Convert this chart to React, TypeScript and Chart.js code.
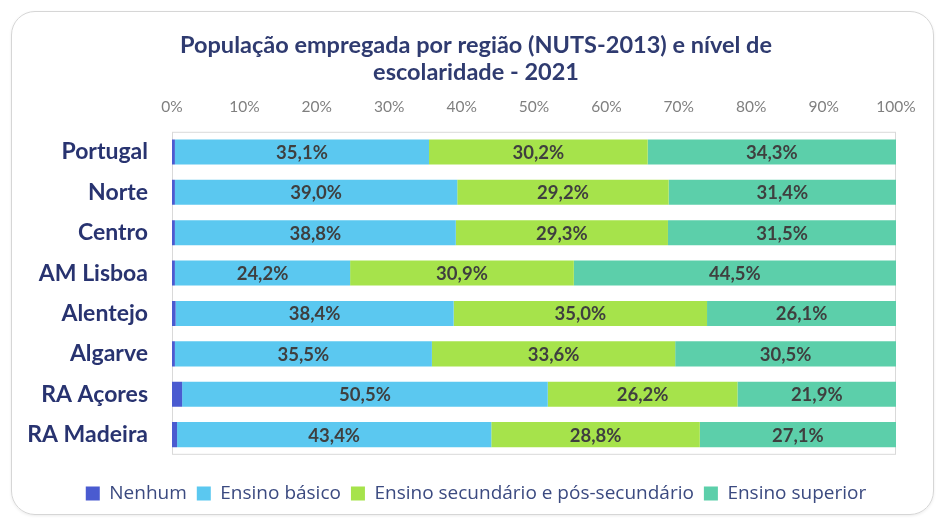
import React, { useEffect, useRef } from 'react';
import { Chart, registerables } from 'chart.js';

Chart.register(...registerables);

const titleLines = ['População empregada por região (NUTS-2013) e nível de', 'escolaridade - 2021'];
const regions = ['Portugal', 'Norte', 'Centro', 'AM Lisboa', 'Alentejo', 'Algarve', 'RA Açores', 'RA Madeira'];
const seriesNames = ['Nenhum', 'Ensino básico', 'Ensino secundário e pós-secundário', 'Ensino superior'];
const nenhum = [0.4, 0.4, 0.4, 0.4, 0.5, 0.4, 1.4, 0.7];
const basico = [35.1, 39.0, 38.8, 24.2, 38.4, 35.5, 50.5, 43.4];
const secundario = [30.2, 29.2, 29.3, 30.9, 35.0, 33.6, 26.2, 28.8];
const superior = [34.3, 31.4, 31.5, 44.5, 26.1, 30.5, 21.9, 27.1];
const xTickValues = [0, 10, 20, 30, 40, 50, 60, 70, 80, 90, 100];
const labeledSeries = [1, 2, 3];

const colors = ['#4a5bd0', '#5bc8f0', '#a6e34b', '#5ccfaa'];

const fmt = (v: number) => v.toFixed(1).replace('.', ',') + '%';

const decorPlugin = {
  id: 'decor',
  beforeDatasetsDraw(chart: any) {
    const { ctx, chartArea } = chart;
    ctx.save();
    ctx.strokeStyle = '#d9d9d9';
    ctx.lineWidth = 1;
    ctx.strokeRect(chartArea.left + 0.5, chartArea.top + 0.5, chartArea.right - chartArea.left - 1, chartArea.bottom - chartArea.top - 1);
    ctx.restore();
  },
  afterDatasetsDraw(chart: any) {
    const { ctx } = chart;
    ctx.save();
    ctx.font = 'bold 18.5px Lato';
    ctx.fillStyle = '#3f3f3f';
    ctx.textAlign = 'center';
    ctx.textBaseline = 'middle';
    labeledSeries.forEach((di) => {
      const meta = chart.getDatasetMeta(di);
      const data = chart.data.datasets[di].data as number[];
      meta.data.forEach((bar: any, i: number) => {
        const cx = (bar.x + bar.base) / 2;
        ctx.fillText(fmt(data[i]), cx, bar.y + 1);
      });
    });
    ctx.restore();
  },
};

export default function App() {
  const ref = useRef<HTMLCanvasElement>(null);
  useEffect(() => {
    if (!ref.current) return;
    const series = [nenhum, basico, secundario, superior];
    const chart = new Chart(ref.current, {
      type: 'bar',
      data: {
        labels: regions,
        datasets: series.map((d, i) => ({
          label: seriesNames[i],
          data: d,
          backgroundColor: colors[i],
          borderWidth: 0,
          barPercentage: 0.62,
          categoryPercentage: 1,
        })),
      },
      options: {
        indexAxis: 'y',
        responsive: false,
        animation: false,
        layout: { padding: { top: 0, left: 15, right: 0, bottom: 6 } },
        scales: {
          x: {
            type: 'linear',
            position: 'top',
            stacked: true,
            min: 0,
            max: 100,
            afterBuildTicks: (s: any) => {
              s.ticks = xTickValues.map((v) => ({ value: v }));
            },
            ticks: {
              padding: 15,
              color: '#7f7f7f',
              font: { family: 'Lato', size: 15.5 },
              callback: (v: any) => v + '%',
            },
            grid: { display: false, drawTicks: false },
            border: { display: false },
            afterFit: (s: any) => {
              s.height = 45.6;
            },
          },
          y: {
            stacked: true,
            ticks: {
              padding: 24,
              color: '#283370',
              font: { family: 'Lato', size: 23, weight: 'bold' },
            },
            grid: { display: false, drawTicks: false },
            border: { display: false },
            afterFit: (s: any) => {
              s.width = 157;
            },
          },
          yRight: {
            type: 'category',
            position: 'right',
            display: true,
            ticks: { display: false },
            grid: { display: false, drawTicks: false },
            border: { display: false },
            afterFit: (s: any) => {
              s.width = 41;
            },
          },
        },
        plugins: {
          title: {
            display: true,
            text: titleLines,
            color: '#2f3b70',
            font: { family: 'Lato', size: 23.5, weight: 'bold', lineHeight: 1.17 },
            padding: { top: 31.2, bottom: 0 },
          },
          legend: {
            display: true,
            position: 'bottom',
            title: { display: true, text: ' ', font: { size: 1 }, padding: { top: 18, bottom: 0 } },
            labels: {
              boxWidth: 14,
              boxHeight: 14,
              padding: 10,
              color: '#3b4a80',
              font: { family: 'Open Sans', size: 19 },
            },
          },
          tooltip: { enabled: false },
        },
      },
      plugins: [decorPlugin],
    } as any);
    return () => chart.destroy();
  }, []);

  return (
    <div style={{ position: 'fixed', left: 0, top: 0, width: 937, height: 519, background: '#fff', overflow: 'hidden' }}>
      <div
        style={{
          position: 'absolute',
          left: 11,
          top: 11,
          width: 921,
          height: 502,
          border: '1.5px solid #d6d6d6',
          borderRadius: 24,
          boxShadow: '0 1px 3px rgba(0,0,0,0.08)',
        }}
      />
      <canvas ref={ref} width={937} height={519} style={{ position: 'absolute', left: 0, top: 0 }} />
    </div>
  );
}
